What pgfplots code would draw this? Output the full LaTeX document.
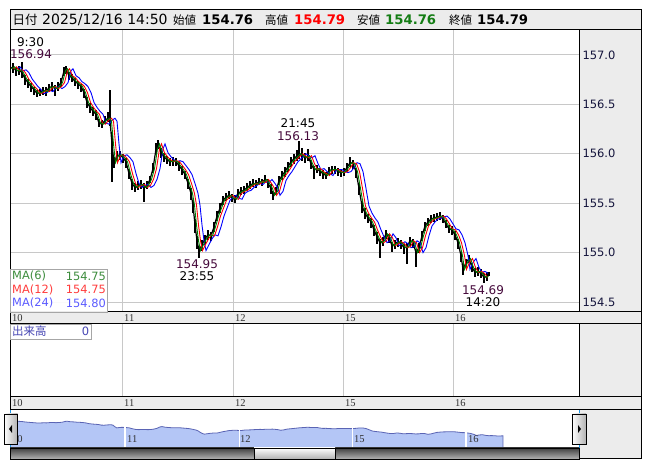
\documentclass[border=0pt]{standalone}
\usepackage{pgfplots}
\pgfplotsset{compat=1.18}
\usepackage{pgfplotstable}
\usepackage{fontspec}
\setmainfont{DejaVu Sans}
\newfontfamily\jp{Noto Sans CJK JP}
\newfontfamily\sm{Liberation Serif}

\definecolor{panel}{RGB}{236,236,236}
\definecolor{gridc}{RGB}{200,200,200}
\definecolor{ma6}{RGB}{0,128,0}
\definecolor{ma12}{RGB}{255,0,0}
\definecolor{ma24}{RGB}{0,0,255}
\definecolor{lg6}{RGB}{60,140,60}
\definecolor{lg12}{RGB}{255,60,60}
\definecolor{lg24}{RGB}{90,90,255}
\definecolor{pricec}{RGB}{70,10,60}
\definecolor{navfill}{RGB}{180,198,246}
\definecolor{navline}{RGB}{90,100,180}
\definecolor{hic}{RGB}{255,0,0}
\definecolor{loc}{RGB}{20,125,20}
\definecolor{volc}{RGB}{70,70,180}
\definecolor{tickc}{RGB}{20,20,60}
\definecolor{navblue}{RGB}{30,150,230}

% x = horizontal position on the chart (px), c = close, ep/em = high/low distance
\pgfplotstableread{
x c ep em
10 156.86 0.08 0.06
13 156.88 0.04 0.06
16 156.84 0.04 0.05
19 156.85 0.04 0.05
22 156.82 0.11 0.05
25 156.76 0.04 0.06
28 156.72 0.04 0.05
31 156.68 0.04 0.05
34 156.65 0.03 0.05
37 156.61 0.04 0.04
40 156.62 0.04 0.04
43 156.64 0.04 0.04
46 156.63 0.05 0.04
49 156.67 0.04 0.04
52 156.68 0.05 0.04
55 156.66 0.04 0.08
58 156.68 0.05 0.04
61 156.72 0.05 0.04
64 156.84 0.04 0.05
66 156.86 0.03 0.05
69 156.79 0.04 0.04
72 156.77 0.04 0.04
75 156.73 0.04 0.04
78 156.71 0.03 0.05
81 156.68 0.03 0.05
84 156.62 0.04 0.06
87 156.52 0.05 0.06
90 156.47 0.04 0.06
93 156.43 0.04 0.05
96 156.40 0.04 0.06
99 156.31 0.04 0.04
102 156.30 0.04 0.04
105 156.34 0.04 0.04
108 156.36 0.06 0.04
110 156.33 0.32 0.05
112 156.10 0.12 0.39
114 155.91 0.06 0.05
117 155.98 0.05 0.05
120 155.99 0.04 0.05
123 155.96 0.04 0.05
126 155.92 0.04 0.06
129 155.80 0.05 0.06
132 155.70 0.05 0.07
135 155.66 0.04 0.05
138 155.68 0.04 0.05
141 155.69 0.04 0.05
144 155.66 0.04 0.15
147 155.68 0.04 0.04
150 155.74 0.04 0.04
153 155.85 0.06 0.04
156 156.05 0.06 0.05
158 156.10 0.04 0.05
161 156.01 0.05 0.05
164 155.97 0.04 0.05
167 155.94 0.04 0.04
170 155.92 0.04 0.04
173 155.93 0.04 0.05
176 155.92 0.04 0.04
179 155.88 0.04 0.05
182 155.84 0.04 0.05
185 155.79 0.04 0.05
188 155.70 0.05 0.06
191 155.60 0.05 0.07
193 155.48 0.05 0.08
195 155.28 0.06 0.08
197 155.12 0.05 0.08
199 155.02 0.05 0.07
202 155.08 0.05 0.06
205 155.14 0.04 0.06
208 155.18 0.05 0.05
211 155.17 0.04 0.05
214 155.26 0.05 0.05
217 155.37 0.05 0.05
220 155.45 0.05 0.05
223 155.53 0.04 0.05
226 155.56 0.04 0.04
229 155.58 0.04 0.04
232 155.55 0.04 0.04
235 155.54 0.04 0.04
238 155.60 0.04 0.04
241 155.62 0.04 0.04
244 155.63 0.04 0.04
247 155.66 0.04 0.04
250 155.68 0.04 0.04
253 155.70 0.04 0.04
256 155.69 0.04 0.04
259 155.72 0.04 0.04
262 155.71 0.04 0.04
265 155.74 0.05 0.04
268 155.70 0.04 0.05
271 155.65 0.04 0.06
273 155.58 0.04 0.05
276 155.62 0.04 0.04
279 155.73 0.05 0.05
282 155.78 0.05 0.05
285 155.82 0.05 0.05
288 155.87 0.05 0.05
291 155.92 0.05 0.05
294 155.95 0.05 0.05
297 155.98 0.06 0.05
299 156.00 0.13 0.05
302 155.98 0.08 0.05
305 155.96 0.05 0.05
308 155.98 0.07 0.05
311 155.90 0.04 0.05
314 155.84 0.04 0.10
317 155.85 0.04 0.04
320 155.82 0.04 0.04
323 155.80 0.04 0.05
326 155.78 0.04 0.04
329 155.83 0.04 0.04
332 155.84 0.04 0.04
335 155.84 0.04 0.04
338 155.82 0.04 0.04
341 155.81 0.04 0.04
344 155.82 0.04 0.04
347 155.86 0.05 0.04
350 155.91 0.06 0.04
353 155.90 0.04 0.05
356 155.82 0.04 0.06
359 155.65 0.05 0.07
362 155.47 0.05 0.07
365 155.40 0.05 0.06
368 155.35 0.04 0.05
371 155.31 0.04 0.06
374 155.23 0.05 0.06
377 155.16 0.05 0.07
380 155.10 0.04 0.15
383 155.12 0.04 0.05
386 155.19 0.04 0.05
389 155.15 0.04 0.05
392 155.07 0.04 0.06
395 155.09 0.04 0.05
398 155.11 0.04 0.05
401 155.09 0.04 0.05
404 155.05 0.04 0.06
407 155.06 0.04 0.18
410 155.12 0.04 0.05
413 155.10 0.04 0.05
416 155.00 0.04 0.15
419 155.05 0.05 0.05
422 155.17 0.05 0.05
425 155.27 0.04 0.05
428 155.31 0.04 0.04
431 155.34 0.04 0.04
434 155.35 0.04 0.04
437 155.36 0.04 0.04
440 155.37 0.04 0.04
443 155.34 0.04 0.04
446 155.29 0.04 0.04
449 155.24 0.04 0.04
452 155.23 0.04 0.05
455 155.18 0.04 0.05
458 155.10 0.04 0.06
461 154.97 0.04 0.06
463 154.83 0.05 0.06
466 154.90 0.04 0.05
469 154.94 0.04 0.05
472 154.85 0.04 0.05
475 154.80 0.04 0.05
478 154.81 0.04 0.05
481 154.79 0.04 0.05
484 154.75 0.04 0.06
487 154.76 0.04 0.05
489 154.79 0.01 0.03
}\pricedata

\pgfplotsset{
  chartpanel/.style={scale only axis, width=569pt, anchor=south west,
    xmin=10, xmax=579, axis line style={draw=none}, major tick style={draw=none},
    xtick={122,233,343,453}, xticklabels={}, xmajorgrids,
    grid style={gridc, line width=1pt}},
}

\begin{document}
\begin{tikzpicture}[x=1pt,y=1pt]
\path[fill=white] (0,0) rectangle (653,470);
% grey bars and side panel
\fill[panel] (10,440) rectangle (641,460);
\fill[panel] (579,11) rectangle (641,440);
\fill[panel] (10,146) rectangle (641,158);
\fill[panel] (10,60) rectangle (641,73);

% price panel
\begin{axis}[chartpanel, at={(10pt,158pt)}, height=282pt,
  ymin=154.399, ymax=157.253, ytick={154.5,155,...,157}, ymajorgrids,
  yticklabel pos=right,
  yticklabel style={font=\fontsize{11.5}{12}\selectfont, text=tickc,
    /pgf/number format/.cd, fixed, fixed zerofill, precision=1, assume math mode=true}]
\addplot[black, line width=1.2pt, error bars/.cd, y dir=both, y explicit,
  error mark=none, error bar style={line width=2.1pt, black}]
  table[x=x, y=c, y error plus=ep, y error minus=em] {\pricedata};
\addplot[ma24, line width=0.9pt, restrict x to domain=0:489]
  table[x expr=\thisrow{x}+7, y=c] {\pricedata};
\addplot[ma12, line width=0.9pt, restrict x to domain=0:489]
  table[x expr=\thisrow{x}+3.5, y=c] {\pricedata};
\addplot[ma6, line width=0.9pt, restrict x to domain=0:489]
  table[x expr=\thisrow{x}+1.5, y=c] {\pricedata};
\end{axis}

% volume panel (empty)
\begin{axis}[chartpanel, at={(10pt,73pt)}, height=73pt, ymin=0, ymax=1, ytick=\empty]
\addplot[draw=none] coordinates {(10,0)};
\end{axis}

% navigator
\begin{axis}[scale only axis, width=569pt, height=38pt, anchor=south west, at={(10pt,22pt)},
  xmin=10.35, xmax=562.8, ymin=153.04, ymax=158.47,
  axis line style={draw=none}, major tick style={draw=none},
  xtick={122,233,343,453}, xticklabels={}, ytick=\empty, xmajorgrids,
  grid style={white, line width=1.2pt}, axis on top]
\addplot[fill=navfill, draw=navline, line width=0.8pt] table[x=x, y=c] {\pricedata} \closedcycle;
\end{axis}

% frame lines
\draw[line width=1pt] (10,11) rectangle (641,460);
\draw[line width=1pt] (10,440) -- (641,440);
\draw[line width=1pt] (579,440) -- (579,158);
\draw[line width=1pt] (10,158) -- (641,158);
\draw[line width=1pt] (10,146) -- (641,146);
\draw[line width=1pt] (579,146) -- (579,73);
\draw[line width=1pt] (10,73) -- (641,73);
\draw[line width=1pt] (10,60) -- (641,60);
\draw[line width=1pt] (579,60) -- (579,11);
\draw[line width=1pt] (10,22) -- (579,22);
\draw[navblue, line width=1pt] (10,22) -- (10,60);
\draw[navblue, line width=1pt] (579,22) -- (579,60);

% header
\begin{scope}[every node/.style={anchor=base west, inner sep=0pt}]
\node[font=\jp\fontsize{12.5}{14}\selectfont] at (12.5,445) {日付};
\node[font=\fontsize{14}{16}\selectfont] at (42,445) {2025/12/16 14:50};
\node[font=\jp\fontsize{11.5}{14}\selectfont] at (173,445) {始値};
\node[font=\bfseries\fontsize{13.2}{16}\selectfont] at (202,445) {154.76};
\node[font=\jp\fontsize{11.5}{14}\selectfont] at (265,445) {高値};
\node[font=\bfseries\fontsize{13.2}{16}\selectfont, text=hic] at (294,445) {154.79};
\node[font=\jp\fontsize{11.5}{14}\selectfont] at (357,445) {安値};
\node[font=\bfseries\fontsize{13.2}{16}\selectfont, text=loc] at (385,445) {154.76};
\node[font=\jp\fontsize{11.5}{14}\selectfont] at (449,445) {終値};
\node[font=\bfseries\fontsize{13.2}{16}\selectfont] at (477,445) {154.79};
\end{scope}

% annotations
\begin{scope}[every node/.style={inner sep=0pt, font=\fontsize{12}{13}\selectfont}]
\node at (30.5,428) {9:30};
\node[text=pricec] at (31,416) {156.94};
\node at (298,347) {21:45};
\node[text=pricec] at (298,334) {156.13};
\node[text=pricec] at (197,206) {154.95};
\node at (197,194) {23:55};
\node[text=pricec] at (483,180) {154.69};
\node at (483,168) {14:20};
\end{scope}

% date bar labels
\begin{scope}[every node/.style={anchor=west, inner sep=0pt, text=black!80, font=\sm\fontsize{10.5}{11}\selectfont}]
\foreach \d/\xx in {10/12,11/124,12/235,15/345,16/455} {
  \node at (\xx,152) {\d};
  \node at (\xx,66.5) {\d};
}
\foreach \d/\xx in {10/12,11/127,12/240,15/354,16/468} {
  \node at (\xx,31) {\d};
}
\end{scope}

% MA legend
\draw[gray!70, fill=white, fill opacity=0.92] (10,158) rectangle (107,201);
\begin{scope}[every node/.style={inner sep=0pt, font=\fontsize{11.4}{12}\selectfont}]
\node[anchor=west, text=lg6] at (12,194) {MA(6)};
\node[anchor=east, text=lg6] at (106,194) {154.75};
\node[anchor=west, text=lg12] at (12,180.5) {MA(12)};
\node[anchor=east, text=lg12] at (106,180.5) {154.75};
\node[anchor=west, text=lg24] at (12,167) {MA(24)};
\node[anchor=east, text=lg24] at (106,167) {154.80};
\end{scope}

% volume legend
\draw[gray!70, fill=white] (10,131) rectangle (91,146);
\node[anchor=west, inner sep=0pt, text=volc, font=\jp\fontsize{11.5}{12}\selectfont] at (12,138.5) {出来高};
\node[anchor=east, inner sep=0pt, text=volc, font=\fontsize{11.5}{12}\selectfont] at (89.5,138.5) {0};

% navigator buttons and scroll bar
\shadedraw[left color=white, right color=gray!60, draw=black] (4,26) rectangle (17.5,56);
\fill[black] (9,41) -- (12,45) -- (12,37) -- cycle;
\shadedraw[left color=white, right color=gray!60, draw=black] (572,26) rectangle (586,56);
\fill[black] (581,41) -- (578,45) -- (578,37) -- cycle;
\shadedraw[top color=black!75, bottom color=black!30, draw=black] (10,11) rectangle (579,22);
\shadedraw[top color=white, bottom color=black!30, draw=black] (254,11) rectangle (335,22);
\end{tikzpicture}
\end{document}
